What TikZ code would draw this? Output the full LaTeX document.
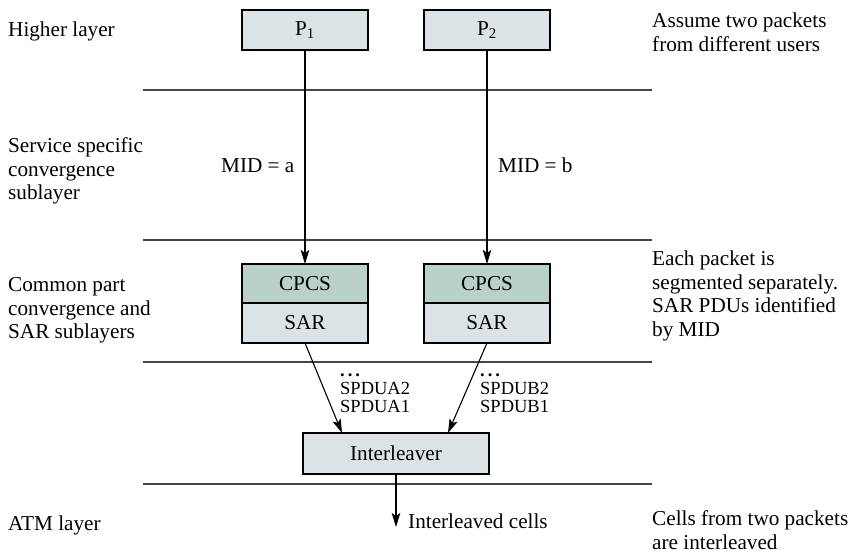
\documentclass[tikz,border=0pt]{standalone}
\usepackage{fontspec}
\setmainfont{Liberation Serif}
\newfontfamily\figfont{Liberation Serif}
\usetikzlibrary{positioning,arrows.meta}
\definecolor{boxgray}{RGB}{220,227,230}
\definecolor{cpcsgreen}{RGB}{186,208,203}
\definecolor{layergray}{RGB}{70,70,70}

\begin{document}
\begin{tikzpicture}
    [x=1pt, y=-1pt,
    font=\figfont\fontsize{21.2}{23.5}\selectfont,
    flow/.style={draw, line width=1.1pt, -{Stealth[length=14pt, width=8.5pt, inset=3pt]}},
    layer/.style={draw=layergray, line width=1.1pt},
    box/.style={draw, line width=1.2pt, fill=boxgray, minimum width=126pt, minimum height=40pt, inner sep=0pt, outer sep=0pt},
    cpcs/.style={box, fill=cpcsgreen, minimum height=39pt},
    note/.style={anchor=north west, align=left, inner sep=0pt},
    pdu/.style={font=\figfont\fontsize{18.5}{18}\selectfont, anchor=south west, align=left, inner sep=0pt}]
        \useasboundingbox (0,0) rectangle (850,556);

        %% layer borders
        \draw[layer] (143,90) -- (652,90);
        \draw[layer] (143,240) -- (652,240);
        \draw[layer] (143,362) -- (652,362);
        \draw[layer] (143,484) -- (652,484);

        %% layer names
        \node[anchor=base west, inner sep=0pt] (L1) at (8,37) {Higher layer};
        \node[note] (L2) at (8,137.7) {Service specific\\convergence\\sublayer};
        \node[note] (L3) at (8,277.7) {Common part\\convergence and\\SAR sublayers};
        \node[anchor=base west, inner sep=0pt] (L4) at (8,530) {ATM layer};

        %% remarks
        \node[note] (R1) at (652,12.7) {Assume two packets\\from different users};
        \node[note] (R2) at (652,250.7) {Each packet is\\segmented separately.\\SAR PDUs identified\\by MID};
        \node[note] (R3) at (652,510.7) {Cells from two packets\\are interleaved};

        %% packets
        \node[box] (P1) at (305,30) {P\textsubscript{1}};
        \node[box] (P2) at (487,30) {P\textsubscript{2}};

        %% CPCS and SAR
        \node[cpcs] (C1) at (305,283.5) {CPCS};
        \node[box, below=0pt of C1] (S1) {SAR};
        \node[cpcs] (C2) at (487,283.5) {CPCS};
        \node[box, below=0pt of C2] (S2) {SAR};

        %% interleaver
        \node[box, minimum width=186pt, minimum height=41pt] (I) at (396,453.5) {Interleaver};
        \coordinate (out) at (396,527);

        \draw[flow] (P1) -- (C1);
        \draw[flow] (P2) -- (C2);
        \draw[flow] (S1.south) -- ([xshift=-54pt]I.north);
        \draw[flow] (S2.south) -- ([xshift=52pt]I.north);
        \draw[flow] (I) -- (out);

        \node[anchor=base west, inner sep=0pt] (MA) at (221,172) {MID = a};
        \node[anchor=base west, inner sep=0pt] (MB) at (498,172) {MID = b};
        \node[pdu] (DA) at (340,413) {\textbf{.\hspace{3pt}.\hspace{3pt}.}\\SPDUA2\\SPDUA1};
        \node[pdu] (DB) at (480,413) {\textbf{.\hspace{3pt}.\hspace{3pt}.}\\SPDUB2\\SPDUB1};
        \node[anchor=base west, inner sep=0pt] (IC) at (408,528) {Interleaved cells};
\end{tikzpicture}
\end{document}
